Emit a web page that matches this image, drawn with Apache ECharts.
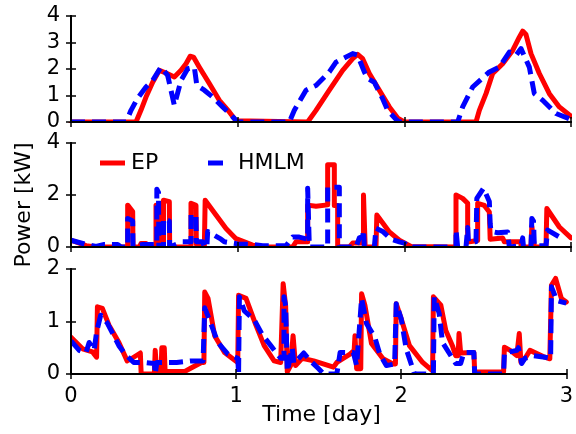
<!DOCTYPE html>
<html><head><meta charset="utf-8">
<script src="https://cdn.jsdelivr.net/npm/echarts@6/dist/echarts.min.js"></script>
<style>html,body{margin:0;padding:0;background:#fff}#c{width:576px;height:434px}</style>
</head><body><div id="c"></div>
<script>
// ---- data: [time (day), power (kW)] ----
const epTop = [[0,0],[0.39,0],[0.42,0.45],[0.45,0.94],[0.49,1.5],[0.53,1.95],[0.57,1.85],[0.62,1.7],[0.66,1.95],[0.69,2.2],[0.715,2.48],[0.735,2.45],[0.77,2.07],[0.83,1.45],[0.89,0.82],[0.95,0.38],[0.99,0.05],[1.0,0],[1.42,0],[1.47,0.44],[1.55,1.2],[1.63,1.95],[1.69,2.39],[1.72,2.55],[1.75,2.39],[1.79,1.83],[1.85,1.2],[1.91,0.57],[1.96,0.15],[2.0,0],[2.43,0],[2.45,0.44],[2.49,1.07],[2.53,1.83],[2.59,2.2],[2.65,2.7],[2.69,3.2],[2.71,3.43],[2.73,3.3],[2.76,2.58],[2.81,1.83],[2.87,1.07],[2.93,0.57],[3.0,0.22]];
const hmlmTop = [[0,0],[0.33,0],[0.36,0.44],[0.40,0.9],[0.45,1.32],[0.49,1.57],[0.54,2.07],[0.58,1.76],[0.62,0.63],[0.66,1.57],[0.70,2.01],[0.74,2.07],[0.755,1.38],[0.80,1.2],[0.85,0.94],[0.91,0.57],[0.97,0.2],[1.0,0],[1.31,0],[1.34,0.44],[1.41,1.2],[1.47,1.38],[1.55,1.89],[1.59,2.26],[1.69,2.58],[1.72,2.52],[1.76,1.89],[1.78,1.64],[1.82,1.5],[1.87,0.88],[1.90,0.44],[1.95,0.1],[1.97,0],[2.32,0],[2.35,0.57],[2.41,1.32],[2.51,1.89],[2.57,2.07],[2.63,2.64],[2.67,2.52],[2.70,2.77],[2.75,2.07],[2.78,1.07],[2.83,0.82],[2.91,0.32],[3.0,0.1]];
const epMid = [[0,0.26],[0.05,0.15],[0.09,0.05],[0.15,0],[0.34,0],[0.34,1.61],[0.37,1.36],[0.372,0],[0.41,0],[0.42,0.13],[0.45,0.13],[0.46,0],[0.51,0],[0.51,1.61],[0.525,1.61],[0.527,0],[0.555,0],[0.555,1.8],[0.59,1.74],[0.592,0],[0.72,0],[0.72,1.68],[0.75,1.6],[0.752,0.1],[0.79,0.1],[0.80,0],[0.805,1.8],[0.87,1.23],[0.93,0.71],[0.99,0.32],[1.09,0.07],[1.15,0],[1.33,0],[1.35,0.2],[1.42,0.2],[1.42,1.61],[1.47,1.57],[1.54,1.62],[1.54,3.16],[1.58,3.16],[1.58,1.6],[1.60,1.6],[1.60,0],[1.67,0],[1.69,0.15],[1.755,0.15],[1.755,2.0],[1.765,2.0],[1.765,0],[1.83,0],[1.835,1.23],[1.91,0.58],[1.97,0.26],[2.04,0.02],[2.31,0],[2.31,2.0],[2.35,1.87],[2.38,1.68],[2.38,0.19],[2.44,0.25],[2.44,1.68],[2.48,1.6],[2.51,1.35],[2.515,0.3],[2.59,0.35],[2.60,0.2],[2.70,0.2],[2.70,0],[2.76,0],[2.765,0.8],[2.775,0.8],[2.78,0],[2.85,0],[2.855,1.48],[2.93,0.77],[3.0,0.35]];
const hmlmMid = [[0,0.26],[0.09,0.1],[0.15,0.02],[0.2,0.1],[0.28,0.1],[0.30,0],[0.34,0],[0.34,1.1],[0.37,1.0],[0.372,0],[0.43,0.1],[0.515,0.1],[0.515,2.22],[0.525,2.1],[0.527,0],[0.555,0],[0.555,1.1],[0.59,1.0],[0.592,0],[0.67,0.2],[0.72,0.2],[0.72,1.25],[0.75,1.2],[0.752,0.2],[0.79,0.2],[0.80,0],[0.815,0],[0.82,0.6],[0.90,0.3],[0.92,0.2],[1.0,0.12],[1.09,0.1],[1.15,0.05],[1.29,0.05],[1.33,0.38],[1.37,0.38],[1.42,0.3],[1.42,2.26],[1.43,0],[1.54,0],[1.54,2.3],[1.61,2.3],[1.61,0],[1.71,0],[1.73,0.35],[1.75,0.4],[1.755,0.65],[1.76,0],[1.82,0],[1.83,0.72],[1.87,0.6],[1.92,0.3],[1.97,0.2],[2.0,0.15],[2.03,0],[2.31,0],[2.31,0.65],[2.32,0],[2.37,0],[2.38,0.75],[2.385,0.2],[2.43,0.2],[2.435,1.87],[2.475,2.26],[2.51,1.75],[2.515,0.9],[2.52,0.6],[2.56,0.55],[2.62,0.58],[2.63,0],[2.70,0.05],[2.71,0.35],[2.715,0],[2.76,0],[2.765,1.1],[2.775,1.0],[2.78,0.05],[2.85,0.05],[2.86,0.65],[2.94,0.35]];
const epBot = [[0,0.7],[0.07,0.48],[0.13,0.42],[0.155,0.32],[0.16,1.28],[0.19,1.25],[0.23,0.93],[0.29,0.6],[0.34,0.25],[0.37,0.3],[0.42,0.4],[0.425,0],[0.505,0],[0.51,0.45],[0.52,0],[0.545,0],[0.55,0.5],[0.565,0.5],[0.57,0.05],[0.69,0.05],[0.73,0.12],[0.79,0.22],[0.805,0.22],[0.81,1.56],[0.83,1.44],[0.87,0.73],[0.93,0.41],[1.01,0.22],[1.015,1.5],[1.06,1.44],[1.12,0.93],[1.17,0.54],[1.23,0.25],[1.27,0.22],[1.285,1.72],[1.30,1.3],[1.31,0.04],[1.33,0.16],[1.345,0.73],[1.36,0.16],[1.40,0.3],[1.47,0.25],[1.59,0.13],[1.61,0.22],[1.69,0.38],[1.715,0.45],[1.72,0.73],[1.73,0.1],[1.755,0.1],[1.76,1.53],[1.78,1.31],[1.82,0.58],[1.89,0.29],[1.95,0.19],[1.965,0.19],[1.97,1.34],[2.0,1.05],[2.05,0.54],[2.13,0.22],[2.19,0.06],[2.195,1.47],[2.24,1.31],[2.27,0.83],[2.31,0.54],[2.33,0.35],[2.345,0.35],[2.35,0.77],[2.36,0.4],[2.44,0.41],[2.445,0.04],[2.62,0.04],[2.625,0.51],[2.66,0.45],[2.70,0.35],[2.715,0.77],[2.725,0.22],[2.75,0.3],[2.78,0.45],[2.87,0.32],[2.90,0.29],[2.91,1.69],[2.935,1.82],[2.97,1.44],[3.0,1.37]];
const hmlmBot = [[0,0.63],[0.05,0.45],[0.09,0.4],[0.11,0.6],[0.14,0.45],[0.155,0.8],[0.18,1.12],[0.22,0.97],[0.29,0.54],[0.33,0.37],[0.38,0.22],[0.44,0.22],[0.505,0.2],[0.51,0],[0.52,0.22],[0.64,0.22],[0.73,0.25],[0.80,0.25],[0.81,1.26],[0.83,1.1],[0.89,0.6],[0.95,0.38],[1.01,0.3],[1.015,0],[1.02,1.47],[1.05,1.2],[1.11,1.03],[1.16,0.74],[1.21,0.54],[1.27,0.3],[1.29,0.3],[1.29,1.47],[1.30,1.3],[1.31,0.05],[1.34,0.5],[1.35,0.2],[1.41,0.4],[1.45,0.25],[1.50,0.1],[1.53,0],[1.61,0],[1.63,0.41],[1.71,0.41],[1.73,0.16],[1.76,1.44],[1.79,0.96],[1.84,0.7],[1.87,0.38],[1.91,0.16],[1.96,0.19],[1.97,1.34],[2.0,1.05],[2.03,0.48],[2.07,0.1],[2.08,0],[2.195,0],[2.20,1.47],[2.23,1.15],[2.25,0.6],[2.33,0.2],[2.36,0.2],[2.38,0.41],[2.44,0.41],[2.445,0],[2.62,0],[2.625,0.4],[2.70,0.45],[2.71,0.5],[2.73,0.2],[2.75,0.3],[2.80,0.35],[2.87,0.32],[2.905,0.3],[2.91,1.66],[2.93,1.5],[2.94,1.4],[3.0,1.35]];
const xTicks = [0, 1, 2, 3];
const yMax = [4, 4, 2];
const yStep = [1, 2, 1];
const seriesNames = ['EP', 'HMLM'];
const xName = 'Time [day]';
const yName = 'Power [kW]';

const FONT = 'DejaVu Sans';
const RED = '#ff0000', BLUE = '#0000ff';
const L = 71, W = 500;
const gridBoxes = [{top:16,height:106},{top:143,height:104},{top:269,height:105}];
const grid = gridBoxes.map(g => ({left:L, width:W, top:g.top, height:g.height, show:false}));
const tick = {show:true, inside:true, length:5, lineStyle:{color:'#000', width:1.5}};
const frame = {show:true, lineStyle:{color:'#000', width:2}};
const xAxis = [], yAxis = [];
for (let i = 0; i < 3; i++) {
  ['bottom','top'].forEach(pos => xAxis.push({type:'value', gridIndex:i, position:pos, min:xTicks[0], max:xTicks[xTicks.length-1], interval:1, z:11,
    axisLine:frame, axisTick:tick, splitLine:{show:false},
    axisLabel:{show: i===2 && pos==='bottom', fontFamily:FONT, fontSize:21, color:'#000', margin:12}}));
  ['left','right'].forEach(pos => yAxis.push({type:'value', gridIndex:i, position:pos, min:0, max:yMax[i], interval:yStep[i], z:11,
    axisLine:frame, axisTick:tick, splitLine:{show:false},
    axisLabel:{show: pos==='left', fontFamily:FONT, fontSize:21, color:'#000', margin:11}}));
}
const panels = [[epTop, hmlmTop],[epMid, hmlmMid],[epBot, hmlmBot]];
const series = [];
panels.forEach((p, i) => {
  series.push({name:seriesNames[0], type:'line', xAxisIndex:2*i, yAxisIndex:2*i, data:p[0], showSymbol:false, symbol:'none', color:RED,
    lineStyle:{color:RED, width:5, cap:'round', join:'round'}, animation:false, z:2});
  series.push({name:seriesNames[1], type:'line', xAxisIndex:2*i, yAxisIndex:2*i, data:p[1], showSymbol:false, symbol:'none', color:BLUE,
    lineStyle:{color:BLUE, width:5, type:[14,7], cap:'butt', join:'round'}, animation:false, z:3});
});
// white masks just outside each plot frame (emulate clipping of lines to the axes box)
const masks = [];
gridBoxes.forEach(g => {
  const b = g.top + g.height;
  masks.push({type:'rect', z:5, silent:true, shape:{x:L-8, y:b+1, width:W+16, height:5}, style:{fill:'#fff'}});
  masks.push({type:'rect', z:5, silent:true, shape:{x:L-8, y:g.top-6, width:W+16, height:5}, style:{fill:'#fff'}});
  masks.push({type:'rect', z:5, silent:true, shape:{x:L-7, y:g.top, width:6, height:g.height}, style:{fill:'#fff'}});
  masks.push({type:'rect', z:5, silent:true, shape:{x:L+W+1, y:g.top, width:6, height:g.height}, style:{fill:'#fff'}});
});
const chart = echarts.init(document.getElementById('c'), null, {renderer:'canvas'});
chart.setOption({
  animation:false,
  grid, xAxis, yAxis, series,
  legend:[
    {data:[{name:'EP', icon:'rect'}], left:100, top:152, padding:0, itemWidth:25, itemHeight:5, itemGap:0, textStyle:{fontFamily:FONT, fontSize:22, color:'#000', padding:[0,0,0,1]}, selectedMode:false},
    {data:[{name:'HMLM', icon:'rect'}], left:208, top:152, padding:0, itemWidth:15, itemHeight:5, itemGap:0, textStyle:{fontFamily:FONT, fontSize:22, color:'#000', padding:[0,0,0,10]}, selectedMode:false}
  ],
  graphic:masks.concat([
    {type:'text', x:24, y:205, rotation:Math.PI/2, style:{text:yName, font:'22px "DejaVu Sans"', fill:'#000', textAlign:'center', textVerticalAlign:'middle', align:'center', verticalAlign:'middle'}},
    {type:'text', x:321.5, y:415, style:{text:xName, font:'22px "DejaVu Sans"', fill:'#000', textAlign:'center', textVerticalAlign:'middle', align:'center', verticalAlign:'middle'}}
  ])
});
</script></body></html>
